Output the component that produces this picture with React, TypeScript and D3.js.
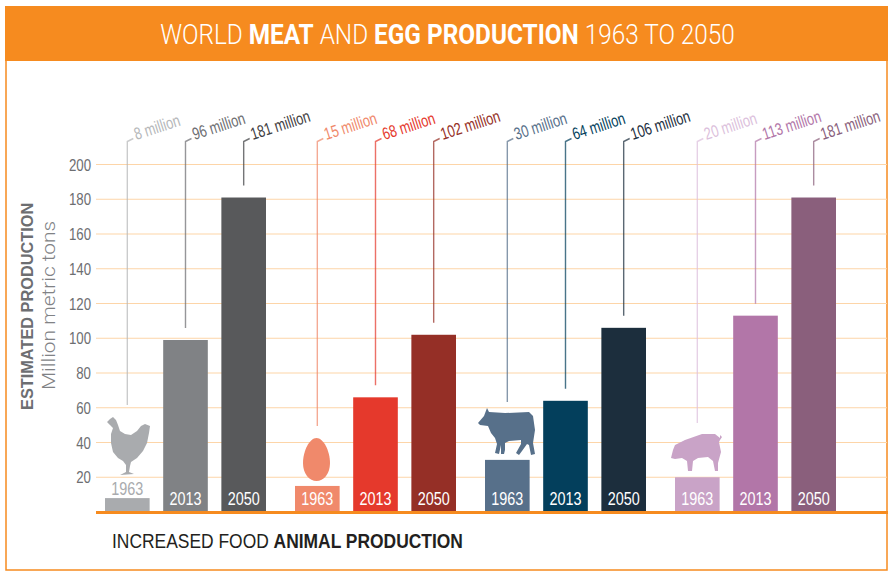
import React from "react";
import * as d3 from "d3";

const years = ["1963", "2013", "2050"];
const groups = ["chicken", "egg", "cow", "pig"];
const chickenValues = [8, 99, 181];
const eggValues = [15, 66, 102];
const cowValues = [30, 64, 106];
const pigValues = [20, 113, 181];
const chickenLabels = ["8 million", "96 million", "181 million"];
const eggLabels = ["15 million", "68 million", "102 million"];
const cowLabels = ["30 million", "64 million", "106 million"];
const pigLabels = ["20 million", "113 million", "181 million"];
const yTicks = [20, 40, 60, 80, 100, 120, 140, 160, 180, 200];

const W = 890;
const H = 571;
const ORANGE = "#f68b1f";
const FONT = "'Liberation Sans', Arial, sans-serif";
const LIGHT = "Roboto, 'Liberation Sans', sans-serif";

const seriesValues = [chickenValues, eggValues, cowValues, pigValues];
const seriesLabels = [chickenLabels, eggLabels, cowLabels, pigLabels];
const barColors = [
  ["#a9abae", "#808285", "#58595b"],
  ["#f0896b", "#e5392c", "#952f26"],
  ["#57708a", "#033f5c", "#1c2e3d"],
  ["#c9a3c7", "#b276a8", "#8a5f7c"],
];
const labelColors = [
  ["#b5b7b9", "#6d6e71", "#3f4042"],
  ["#f0896b", "#e5392c", "#952f26"],
  ["#57708a", "#033f5c", "#1c2e3d"],
  ["#dcbfdc", "#b276a8", "#8a5f7c"],
];

// hand traced silhouettes, page coordinates. top = where the 1963 leader line stops
const icons: Record<string, { d: string; top: number }> = {
  chicken: {
    top: 405,
    d: "M107,422 L110,419 L113,417 L116,420 L118,425 L120,431 L125,434 L131,435 L137,431 L141,426 L145,424 L150,426 L149,433 L147,443 L143,451 L137,458 L131,462 L130,466 L129,472 L134,474 L120,475 L126,472 L126,465 L123,461 L118,458 L113,452 L111,443 L111,434 L113,428 L110,425 Z",
  },
  egg: {
    top: 426,
    d: "M316.5,438 C323.5,438 330,451 330,463 C330,474 323.5,481 316.5,481 C309.5,481 303,474 303,463 C303,451 309.5,438 316.5,438 Z",
  },
  cow: {
    top: 402,
    d: "M487,408 L489,412 L505,413 L529,412 L533,416 L535,430 L533,443 L535,454 L531,455 L529,445 L527,444 L522,451 L519,455 L516,453 L521,444 L521,440 L509,441 L505,443 L505,450 L504,454 L501,454 L501,445 L499,454 L495,453 L497,444 L495,438 L491,433 L488,426 L480,425 L478,423 L484,416 Z",
  },
  pig: {
    top: 423,
    d: "M671,458 L673,450 L675,445 L685,440 L702,434 L715,434 L720,438 L720,435 L722,437 L720,440 L719,442 L721,452 L718,463 L718,471 L715,471 L713,461 L708,457 L698,458 L693,461 L692,471 L688,471 L687,461 L682,458 L675,459 Z",
  },
};

export default function App() {
  const y = d3.scaleLinear().domain([0, 200]).range([512, 164.5]);
  const groupX = d3.scalePoint<string>().domain(groups).range([105, 675]);
  const yearX = d3.scaleBand<string>().domain(years).range([0, 161]).paddingInner(0.233);

  return (
    <svg
      width={W}
      height={H}
      style={{ position: "absolute", left: 0, top: 0, display: "block" }}
      fontFamily={FONT}
    >
      <rect width={W} height={H} fill="#fff" />
      <rect x={6} y={7} width={881} height={563} fill="none" stroke={ORANGE} strokeWidth={1.5} />
      <rect x={5} y={6} width={883} height={55} fill={ORANGE} />
      <text
        transform="translate(447.5,44) scale(0.87,1)"
        textAnchor="middle"
        fill="#fff"
        fontSize={28}
        fontFamily={LIGHT}
        fontWeight={300}
      >
        WORLD <tspan fontWeight="bold">MEAT</tspan> AND{" "}
        <tspan fontWeight="bold">EGG PRODUCTION</tspan> 1963 TO 2050
      </text>

      {yTicks.map((t) => (
        <g key={t}>
          <line x1={96} x2={887} y1={y(t)} y2={y(t)} stroke="#fdd5a8" strokeWidth={1.2} />
          <text
            transform={`translate(91,${y(t) + 6}) scale(0.78,1)`}
            textAnchor="end"
            fill="#6d6e71"
            fontSize={17}
          >
            {t}
          </text>
        </g>
      ))}

      <text
        transform="translate(33,410) rotate(-90) scale(0.96,1)"
        fill="#6d6e71"
        fontSize={17}
        fontWeight="bold"
      >
        ESTIMATED PRODUCTION
      </text>
      <text
        transform="translate(55,390) rotate(-90) scale(1.1,1)"
        fill="#808285"
        fontSize={19}
        fontFamily={LIGHT}
        fontWeight={300}
      >
        Million metric tons
      </text>

      {groups.map((g, gi) => {
        const icon = icons[g];
        return (
          <g key={g}>
            {years.map((yr, i) => {
              const x0 = (groupX(g) as number) + (yearX(yr) as number);
              const cx = x0 + yearX.bandwidth() / 2;
              const v = seriesValues[gi][i];
              const top = y(v);
              const lineEnd = i === 0 ? icon.top : top - 12;
              const outside = g === "chicken" && i === 0; // bar too short for its year
              return (
                <g key={yr}>
                  <path
                    d={`M${cx},${lineEnd} V141.5 L${cx + 6},138.5`}
                    fill="none"
                    stroke={labelColors[gi][i]}
                    strokeWidth={1.4}
                    opacity={0.72}
                  />
                  <text
                    transform={`translate(${cx + 9},${140}) rotate(-18) scale(0.76,1)`}
                    fill={labelColors[gi][i]}
                    fontSize={17}
                  >
                    {seriesLabels[gi][i]}
                  </text>
                  <rect x={x0} y={top} width={yearX.bandwidth()} height={512 - top} fill={barColors[gi][i]} />
                  <text
                    transform={`translate(${cx},${outside ? 495 : 505}) scale(0.8,1)`}
                    textAnchor="middle"
                    fill={outside ? "#a9abae" : "#fff"}
                    fontSize={18}
                  >
                    {yr}
                  </text>
                </g>
              );
            })}
            <path d={icon.d} fill={barColors[gi][0]} />
          </g>
        );
      })}

      <line x1={96} x2={888} y1={512.5} y2={512.5} stroke={ORANGE} strokeWidth={3} />
      <text transform="translate(112,548) scale(0.83,1)" fill="#231f20" fontSize={21}>
        INCREASED FOOD <tspan fontWeight="bold">ANIMAL PRODUCTION</tspan>
      </text>
    </svg>
  );
}
